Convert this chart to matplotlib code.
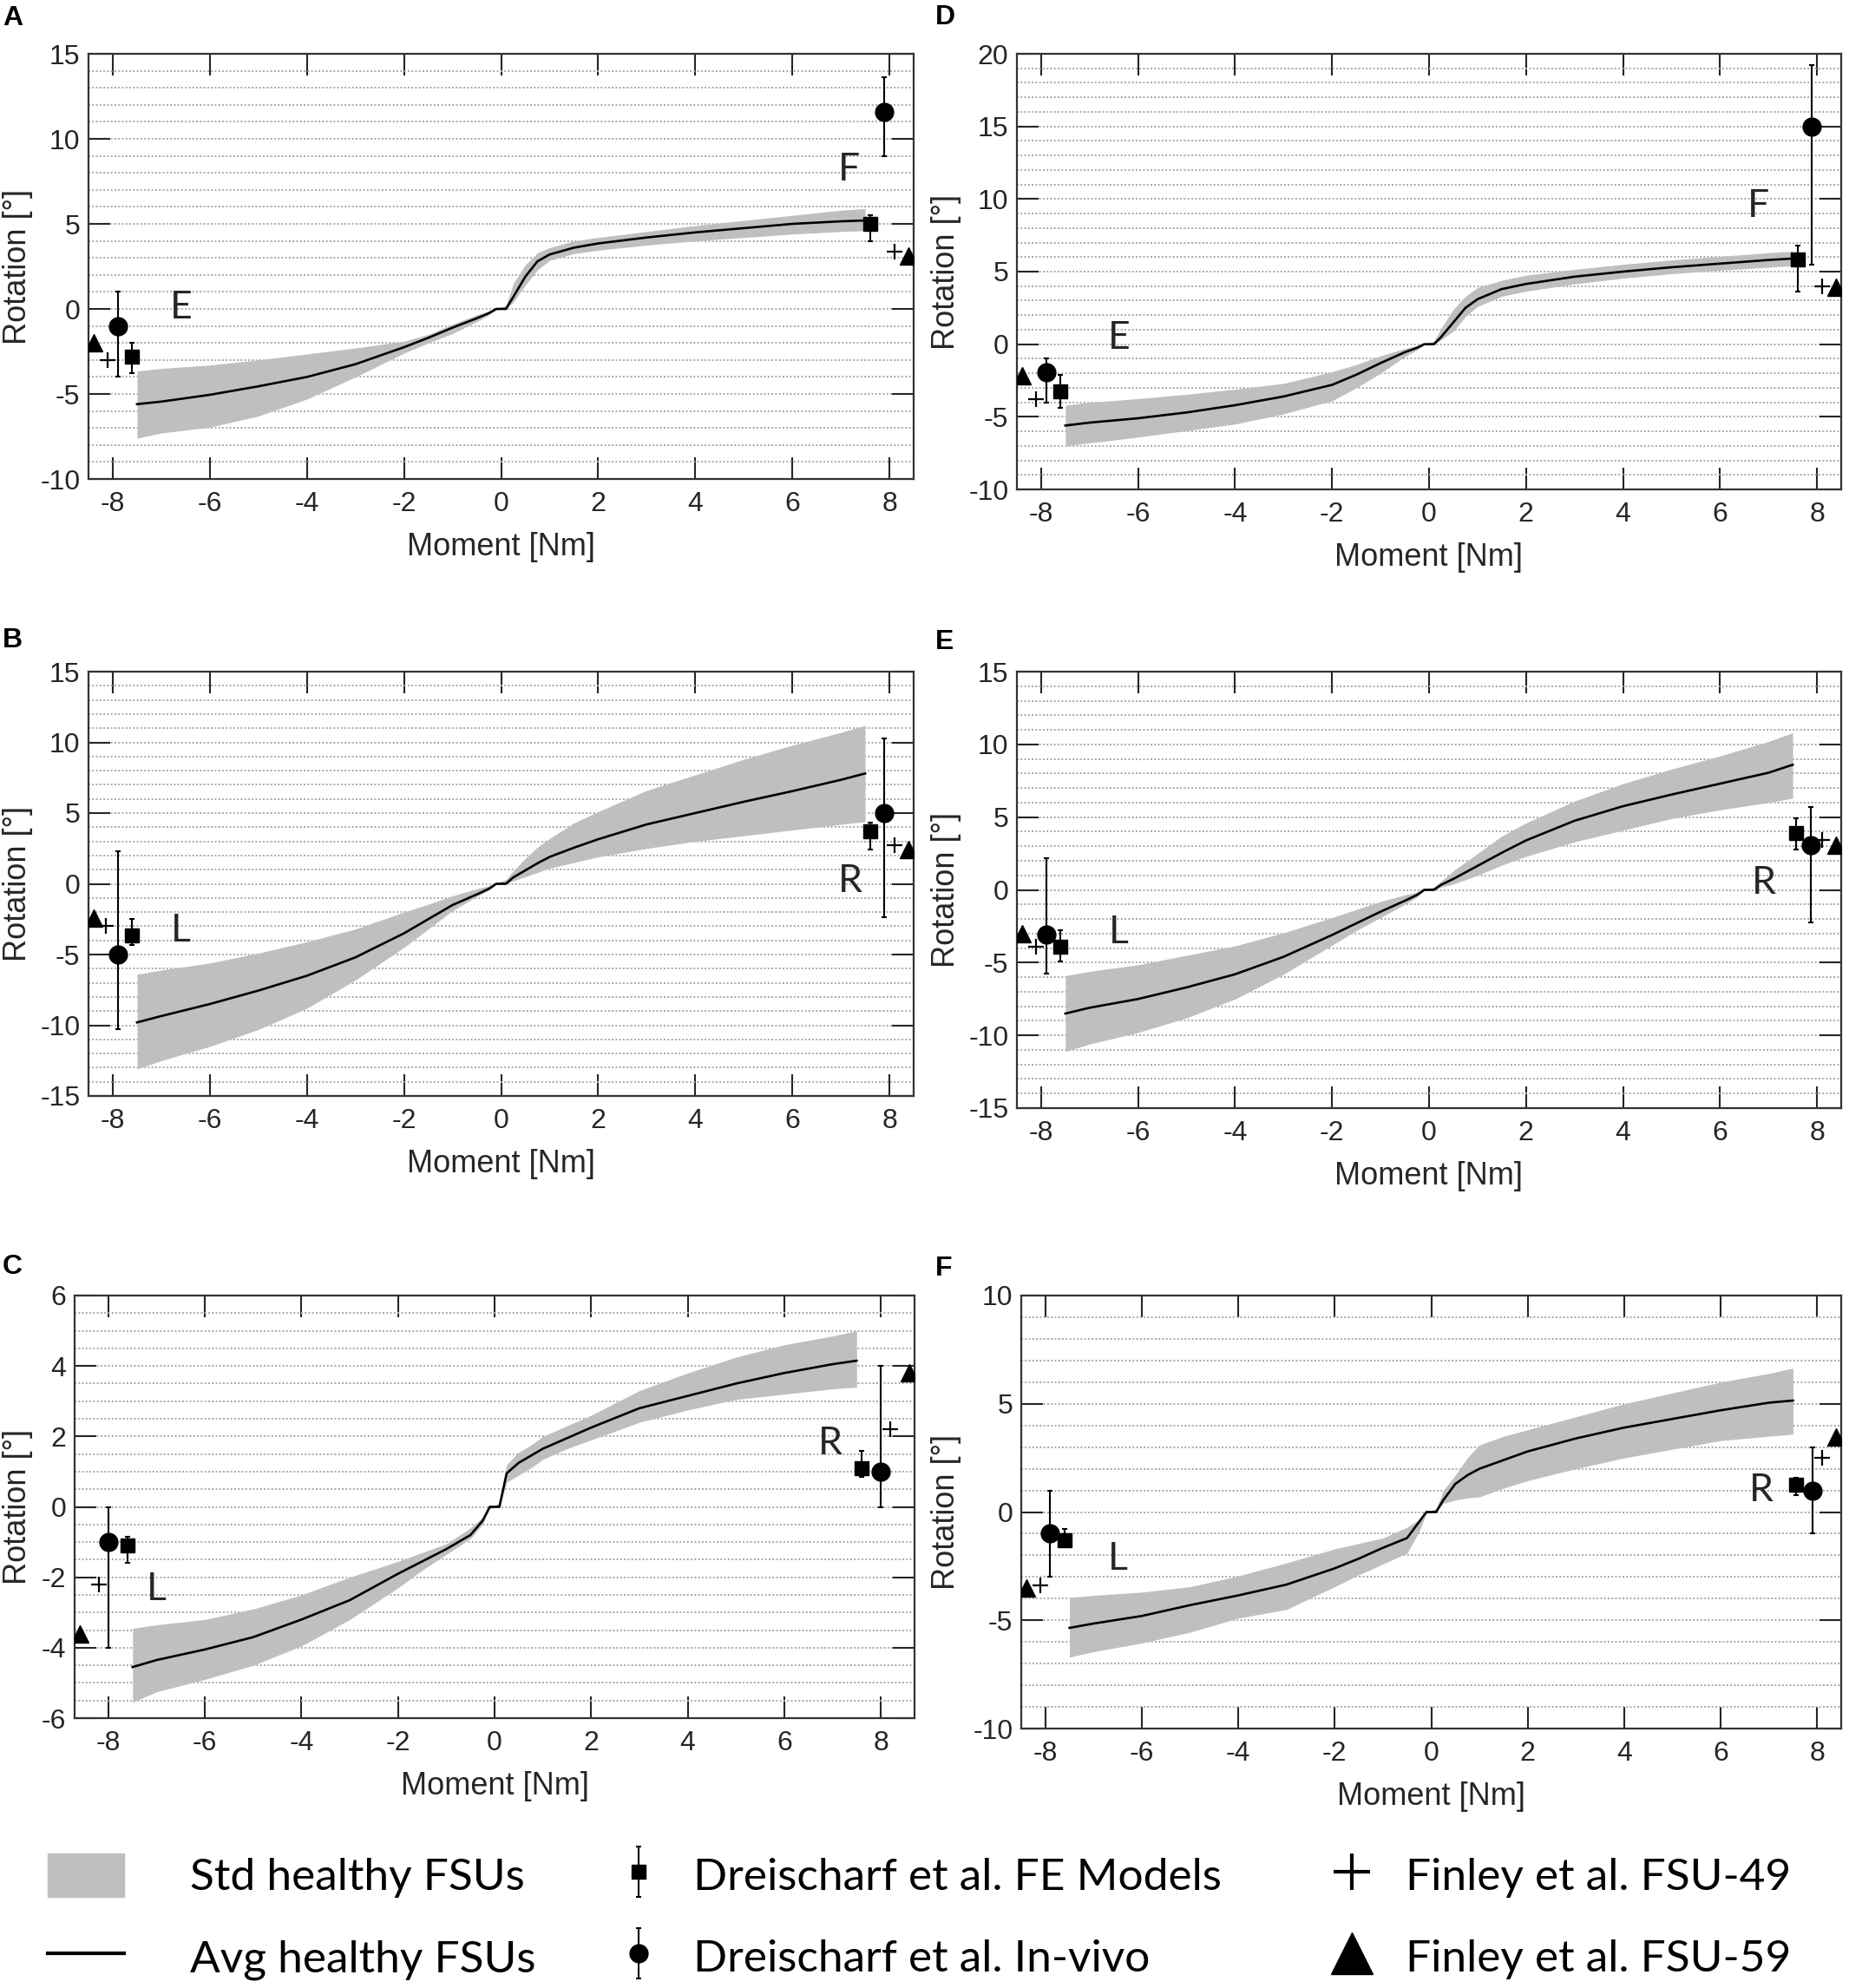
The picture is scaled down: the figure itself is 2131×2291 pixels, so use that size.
import numpy as np
import matplotlib
matplotlib.use("Agg")
import matplotlib.pyplot as plt
from matplotlib.patches import Patch
from matplotlib.lines import Line2D
from matplotlib.legend_handler import HandlerErrorbar

plt.rcParams['font.family'] = ['Liberation Sans', 'DejaVu Sans']
plt.rcParams['axes.unicode_minus'] = False

# moment grid shared by all averaged curves [Nm]
moment = [-7.5, -7, -6, -5, -4, -3, -2, -1.5, -1, -0.5, -0.25, -0.1, 0.1,
          0.25, 0.5, 0.75, 1, 1.5, 2, 3, 4, 5, 6, 7, 7.5]

# A: flexion / extension, first segment
avg_a = [-5.6, -5.45, -5.05, -4.55, -4.0, -3.25, -2.25, -1.7, -1.1, -0.55, -0.25, 0, 0,
         0.7, 1.9, 2.8, 3.2, 3.6, 3.85, 4.2, 4.5, 4.75, 5.0, 5.15, 5.2]
hi_a = [-3.65, -3.5, -3.3, -3.0, -2.65, -2.3, -1.9, -1.5, -0.9, -0.35, -0.12, 0.0, 0.2,
        1.5, 2.6, 3.3, 3.6, 4.0, 4.2, 4.55, 4.9, 5.2, 5.5, 5.8, 5.9]
lo_a = [-7.6, -7.3, -6.95, -6.3, -5.3, -4.0, -2.6, -2.0, -1.45, -0.75, -0.35, -0.05, 0,
        0.4, 1.4, 2.3, 2.85, 3.25, 3.45, 3.75, 4.0, 4.2, 4.4, 4.55, 4.6]

# B: lateral bending, first segment
avg_b = [-9.8, -9.35, -8.5, -7.55, -6.5, -5.2, -3.5, -2.5, -1.5, -0.75, -0.35, 0, 0,
         0.45, 0.95, 1.45, 1.9, 2.55, 3.15, 4.2, 5.0, 5.8, 6.55, 7.35, 7.8]
hi_b = [-6.4, -6.1, -5.6, -4.9, -4.1, -3.2, -2.0, -1.45, -0.85, -0.35, -0.15, 0.05, 0.3,
        0.9, 1.8, 2.6, 3.2, 4.3, 5.1, 6.6, 7.7, 8.8, 9.8, 10.7, 11.2]
lo_b = [-13.1, -12.5, -11.5, -10.3, -8.8, -6.8, -4.5, -3.2, -1.9, -0.9, -0.45, -0.05, 0,
        0.2, 0.5, 0.8, 1.1, 1.5, 1.9, 2.5, 3.0, 3.4, 3.8, 4.2, 4.4]

# C: axial rotation, first segment
avg_c = [-4.55, -4.35, -4.05, -3.7, -3.2, -2.65, -1.9, -1.55, -1.2, -0.8, -0.4, 0, 0,
         0.95, 1.25, 1.45, 1.65, 1.95, 2.25, 2.8, 3.15, 3.5, 3.8, 4.05, 4.15]
hi_c = [-3.45, -3.35, -3.2, -2.9, -2.5, -2.0, -1.55, -1.3, -1.05, -0.6, -0.3, 0, 0.1,
        1.2, 1.55, 1.75, 2.0, 2.3, 2.6, 3.3, 3.8, 4.25, 4.6, 4.85, 5.0]
lo_c = [-5.55, -5.25, -4.9, -4.5, -3.95, -3.2, -2.3, -1.8, -1.35, -0.9, -0.5, -0.05, 0,
        0.7, 0.9, 1.1, 1.35, 1.65, 1.9, 2.4, 2.75, 3.05, 3.2, 3.35, 3.4]

# D: flexion / extension, second segment
avg_d = [-5.6, -5.4, -5.1, -4.7, -4.2, -3.6, -2.8, -2.1, -1.3, -0.55, -0.25, 0, 0,
         0.5, 1.5, 2.5, 3.1, 3.8, 4.15, 4.65, 5.0, 5.3, 5.55, 5.8, 5.9]
hi_d = [-4.2, -4.0, -3.75, -3.45, -3.1, -2.7, -1.9, -1.4, -0.8, -0.3, -0.1, 0.05, 0.2,
        1.1, 2.4, 3.3, 3.9, 4.4, 4.75, 5.15, 5.5, 5.8, 6.05, 6.3, 6.4]
lo_d = [-7.0, -6.8, -6.4, -5.95, -5.5, -4.8, -3.9, -3.0, -2.0, -0.85, -0.4, -0.05, 0,
        0.3, 0.9, 1.9, 2.6, 3.3, 3.65, 4.15, 4.55, 4.85, 5.1, 5.3, 5.4]

# E: lateral bending, second segment
avg_e = [-8.5, -8.1, -7.5, -6.7, -5.8, -4.6, -3.1, -2.3, -1.5, -0.75, -0.35, 0, 0,
         0.35, 0.75, 1.2, 1.65, 2.55, 3.4, 4.75, 5.75, 6.55, 7.3, 8.05, 8.6]
hi_e = [-5.9, -5.6, -5.15, -4.5, -3.85, -2.95, -1.9, -1.35, -0.8, -0.35, -0.15, 0.05, 0.2,
        0.6, 1.3, 1.9, 2.5, 3.7, 4.6, 6.1, 7.3, 8.3, 9.2, 10.2, 10.8]
lo_e = [-11.1, -10.6, -9.8, -8.8, -7.5, -5.8, -3.8, -2.8, -1.9, -1.0, -0.5, -0.05, 0,
        0.2, 0.4, 0.7, 1.0, 1.7, 2.3, 3.3, 4.1, 4.9, 5.5, 6.0, 6.3]

# F: axial rotation, second segment
avg_f = [-5.35, -5.15, -4.8, -4.3, -3.85, -3.35, -2.6, -2.15, -1.65, -1.2, -0.45, 0, 0,
         0.55, 1.3, 1.7, 2.0, 2.4, 2.8, 3.4, 3.9, 4.3, 4.7, 5.05, 5.15]
hi_f = [-3.95, -3.85, -3.7, -3.45, -2.95, -2.35, -1.7, -1.45, -1.2, -0.7, -0.35, 0, 0.15,
        1.0, 1.7, 2.5, 3.1, 3.5, 3.8, 4.4, 5.0, 5.5, 6.0, 6.4, 6.65]
lo_f = [-6.7, -6.45, -6.05, -5.55, -4.9, -4.5, -3.45, -2.9, -2.4, -1.9, -0.9, -0.05, 0,
        0.4, 0.55, 0.65, 0.7, 1.1, 1.45, 2.0, 2.5, 2.9, 3.3, 3.5, 3.6]

# literature values (x = plotted position, negative / positive moment)
fe_x_a, fe_y_a, fe_lo_a, fe_hi_a = [-7.6, 7.6], [-2.8, 5.0], [-3.8, 4.0], [-2.0, 5.5]
iv_x_a, iv_y_a, iv_lo_a, iv_hi_a = [-7.9, 7.9], [-1.0, 11.6], [-4.0, 9.0], [1.0, 13.6]
f49_x_a, f49_y_a = [-8.1, 8.1], [-3.0, 3.35]
f59_x_a, f59_y_a = [-8.4, 8.4], [-2.0, 3.1]

fe_x_b, fe_y_b, fe_lo_b, fe_hi_b = [-7.6, 7.6], [-3.65, 3.7], [-4.35, 2.4], [-2.5, 4.3]
iv_x_b, iv_y_b, iv_lo_b, iv_hi_b = [-7.9, 7.9], [-5.0, 5.0], [-10.3, -2.35], [2.3, 10.3]
f49_x_b, f49_y_b = [-8.15, 8.1], [-3.0, 2.7]
f59_x_b, f59_y_b = [-8.4, 8.4], [-2.4, 2.4]

fe_x_c, fe_y_c, fe_lo_c, fe_hi_c = [-7.6, 7.6], [-1.1, 1.1], [-1.6, 0.85], [-0.85, 1.6]
iv_x_c, iv_y_c, iv_lo_c, iv_hi_c = [-8.0, 8.0], [-1.0, 1.0], [-4.0, 0.0], [0.0, 4.0]
f49_x_c, f49_y_c = [-8.2, 8.2], [-2.2, 2.2]
f59_x_c, f59_y_c = [-8.6, 8.6], [-3.6, 3.8]

fe_x_d, fe_y_d, fe_lo_d, fe_hi_d = [-7.6, 7.6], [-3.25, 5.85], [-4.4, 3.6], [-2.1, 6.8]
iv_x_d, iv_y_d, iv_lo_d, iv_hi_d = [-7.9, 7.9], [-1.95, 15.0], [-4.0, 5.45], [-1.0, 19.2]
f49_x_d, f49_y_d = [-8.1, 8.1], [-3.8, 4.0]
f59_x_d, f59_y_d = [-8.4, 8.4], [-2.2, 3.9]

fe_x_e, fe_y_e, fe_lo_e, fe_hi_e = [-7.6, 7.57], [-3.9, 3.9], [-4.9, 2.75], [-2.8, 4.9]
iv_x_e, iv_y_e, iv_lo_e, iv_hi_e = [-7.9, 7.88], [-3.1, 3.1], [-5.75, -2.25], [2.2, 5.7]
f49_x_e, f49_y_e = [-8.1, 8.1], [-3.9, 3.4]
f59_x_e, f59_y_e = [-8.4, 8.4], [-3.0, 3.1]

fe_x_f, fe_y_f, fe_lo_f, fe_hi_f = [-7.6, 7.57], [-1.3, 1.27], [-1.6, 0.8], [-0.8, 1.6]
iv_x_f, iv_y_f, iv_lo_f, iv_hi_f = [-7.9, 7.9], [-1.0, 1.0], [-3.0, -1.0], [1.0, 3.0]
f49_x_f, f49_y_f = [-8.1, 8.1], [-3.4, 2.5]
f59_x_f, f59_y_f = [-8.4, 8.4], [-3.5, 3.45]

# direction letters inside the panels
dir_a = [("E", -6.6, 0.1), ("F", 7.17, 8.2)]
dir_b = [("L", -6.6, -3.3), ("R", 7.2, 0.2)]
dir_c = [("L", -7.0, -2.35), ("R", 6.95, 1.8)]
dir_d = [("E", -6.4, 0.4), ("F", 6.8, 9.5)]
dir_e = [("L", -6.4, -2.9), ("R", 6.9, 0.5)]
dir_f = [("L", -6.5, -2.15), ("R", 6.85, 1.0)]

W, H = 2131, 2291
fig = plt.figure(figsize=(W / 100, H / 100), dpi=100)

GRAY = '#bfbfbf'
INK = '#262626'


def add_ax(l, t, r, b):
    return fig.add_axes([l / W, 1 - b / H, (r - l) / W, (b - t) / H])


def draw_panel(ax, avg, lo, hi, fe, iv, f49, f59, dirs, ylim, ystep, gstep, xmax):
    ax.fill_between(moment, lo, hi, color=GRAY, lw=0, zorder=2)
    ax.plot(moment, avg, color='k', lw=1.9, zorder=3)

    fx, fy, flo, fhi = [np.array(v) for v in fe]
    h_fe = ax.errorbar(fx, fy, yerr=[fy - flo, fhi - fy], fmt='s', ms=11, color='k',
                       elinewidth=1.5, capsize=2.5, capthick=1.5, zorder=5)
    vx, vy, vlo, vhi = [np.array(v) for v in iv]
    h_iv = ax.errorbar(vx, vy, yerr=[vy - vlo, vhi - vy], fmt='o', ms=15, color='k',
                       elinewidth=1.5, capsize=2.5, capthick=1.5, zorder=5)
    ax.plot(f49[0], f49[1], ls='none', marker='+', ms=13, mew=1.6, color='k', zorder=5)
    ax.plot(f59[0], f59[1], ls='none', marker='^', ms=15, color='k', zorder=5)

    for lab, x, y in dirs:
        ax.text(x, y, lab, fontsize=32, family='Lato', color=INK,
                ha='center', va='center', zorder=6)

    ax.set_xlim(-xmax, xmax)
    ax.set_ylim(*ylim)
    ax.set_xticks(np.arange(-8, 9, 2))
    ax.set_yticks(np.arange(ylim[0], ylim[1] + ystep / 2, ystep))
    ax.set_yticks(np.arange(ylim[0], ylim[1] + gstep / 2, gstep), minor=True)
    ax.grid(True, which='both', axis='y', ls=(0, (1, 1.2)), color='#a8a8a8', lw=1.4, zorder=0)
    ax.set_axisbelow(True)
    ax.tick_params(which='major', direction='in', length=18, width=1.5, color=INK,
                   top=True, right=True, labelsize=23, labelcolor=INK, pad=7)
    ax.tick_params(axis='x', which='major', pad=10)
    ax.tick_params(which='minor', length=0)
    for s in ax.spines.values():
        s.set_linewidth(1.6)
        s.set_color('#333333')
    ax.set_xlabel("Moment [Nm]", fontsize=26, color=INK, labelpad=12)
    ax.set_ylabel("Rotation [°]", fontsize=26, color=INK)
    return h_fe, h_iv


def place_ylabel(ax, right_px):
    # right edge of the rotated label at a fixed pixel column
    x0, _, w, _ = ax.get_position().bounds
    ax.yaxis.set_label_coords((right_px / W - x0) / w, 0.5)


ax_a = add_ax(102, 62, 1053, 552)
ax_b = add_ax(102, 774, 1053, 1263)
ax_c = add_ax(86, 1493, 1054, 1980)
ax_d = add_ax(1172, 62, 2122, 564)
ax_e = add_ax(1172, 774, 2122, 1277)
ax_f = add_ax(1177, 1493, 2122, 1992)

h_fe, h_iv = draw_panel(ax_a, avg_a, lo_a, hi_a,
                        (fe_x_a, fe_y_a, fe_lo_a, fe_hi_a), (iv_x_a, iv_y_a, iv_lo_a, iv_hi_a),
                        (f49_x_a, f49_y_a), (f59_x_a, f59_y_a), dir_a, (-10, 15), 5, 1, 8.5)
draw_panel(ax_b, avg_b, lo_b, hi_b,
           (fe_x_b, fe_y_b, fe_lo_b, fe_hi_b), (iv_x_b, iv_y_b, iv_lo_b, iv_hi_b),
           (f49_x_b, f49_y_b), (f59_x_b, f59_y_b), dir_b, (-15, 15), 5, 1, 8.5)
draw_panel(ax_c, avg_c, lo_c, hi_c,
           (fe_x_c, fe_y_c, fe_lo_c, fe_hi_c), (iv_x_c, iv_y_c, iv_lo_c, iv_hi_c),
           (f49_x_c, f49_y_c), (f59_x_c, f59_y_c), dir_c, (-6, 6), 2, 0.5, 8.7)
draw_panel(ax_d, avg_d, lo_d, hi_d,
           (fe_x_d, fe_y_d, fe_lo_d, fe_hi_d), (iv_x_d, iv_y_d, iv_lo_d, iv_hi_d),
           (f49_x_d, f49_y_d), (f59_x_d, f59_y_d), dir_d, (-10, 20), 5, 1, 8.5)
draw_panel(ax_e, avg_e, lo_e, hi_e,
           (fe_x_e, fe_y_e, fe_lo_e, fe_hi_e), (iv_x_e, iv_y_e, iv_lo_e, iv_hi_e),
           (f49_x_e, f49_y_e), (f59_x_e, f59_y_e), dir_e, (-15, 15), 5, 1, 8.5)
draw_panel(ax_f, avg_f, lo_f, hi_f,
           (fe_x_f, fe_y_f, fe_lo_f, fe_hi_f), (iv_x_f, iv_y_f, iv_lo_f, iv_hi_f),
           (f49_x_f, f49_y_f), (f59_x_f, f59_y_f), dir_f, (-10, 10), 5, 1, 8.5)

for ax in (ax_a, ax_b, ax_c):
    place_ylabel(ax, 38)
for ax in (ax_d, ax_e, ax_f):
    place_ylabel(ax, 1108)

# panel letters
for lab, x, y in [("A", 3, 29), ("B", 3, 746), ("C", 3, 1468),
                  ("D", 1078, 28), ("E", 1078, 748), ("F", 1078, 1470)]:
    fig.text(x / W, 1 - y / H, lab, fontsize=23, fontweight='bold', va='baseline', ha='left')

# legend in three columns
leg_font = {'family': 'Lato', 'size': 37}
common = dict(loc='upper left', frameon=False, borderpad=0, borderaxespad=0,
              handleheight=1.11, labelspacing=0.83, prop=leg_font)
leg_top = 1 - 2136 / H
fig.legend([Patch(color=GRAY), Line2D([], [], color='k', lw=3)],
           ["Std healthy FSUs", "Avg healthy FSUs"],
           bbox_to_anchor=(55 / W, leg_top), handlelength=1.71, handletextpad=1.48, **common)
fig.legend([h_fe, h_iv], ["Dreischarf et al. FE Models", "Dreischarf et al. In-vivo"],
           bbox_to_anchor=(710 / W, leg_top), handlelength=1.0, handletextpad=0.74,
           handler_map={type(h_fe): HandlerErrorbar(yerr_size=0.57)}, **common)
fig.legend([Line2D([], [], ls='none', marker='+', ms=30, mew=3, color='k'),
            Line2D([], [], ls='none', marker='^', ms=34, color='k')],
           ["Finley et al. FSU-49", "Finley et al. FSU-59"],
           bbox_to_anchor=(1532 / W, leg_top), handlelength=1.0, handletextpad=0.72, **common)

fig.savefig("out.png", dpi=100)
